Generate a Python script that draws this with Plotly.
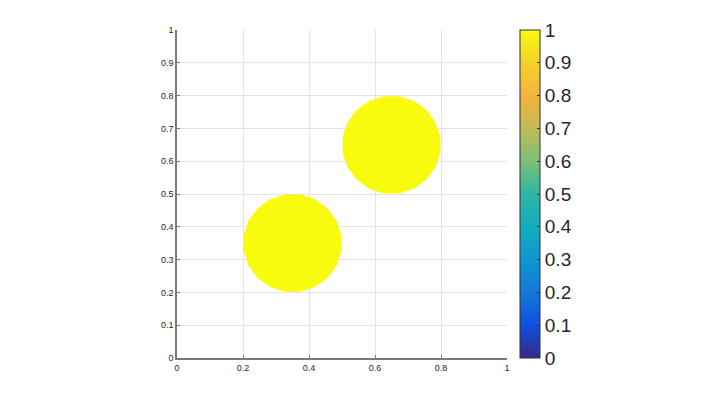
import numpy as np
import plotly.graph_objects as go

# two filled discs (drawn as polygons, like MATLAB's patch output)
center_x = [0.35, 0.65]
center_y = [0.35, 0.65]
radius = [0.15, 0.15]
value = [1.0, 1.0]
n_sides = 20

x_ticks = [0, 0.2, 0.4, 0.6, 0.8, 1]
y_ticks = [0, 0.1, 0.2, 0.3, 0.4, 0.5, 0.6, 0.7, 0.8, 0.9, 1]
cbar_ticks = [0, 0.1, 0.2, 0.3, 0.4, 0.5, 0.6, 0.7, 0.8, 0.9, 1]

# approximate MATLAB parula
parula = [
    [0.0, "rgb(53,42,135)"],
    [0.1, "rgb(15,80,222)"],
    [0.2, "rgb(20,120,218)"],
    [0.3, "rgb(14,150,208)"],
    [0.4, "rgb(20,172,190)"],
    [0.5, "rgb(45,183,165)"],
    [0.6, "rgb(125,191,120)"],
    [0.7, "rgb(195,186,88)"],
    [0.8, "rgb(245,178,60)"],
    [0.9, "rgb(246,210,40)"],
    [1.0, "rgb(249,251,14)"],
]


def parula_color(v):
    # pick the nearest stop; enough for values at the ends of the scale
    stop = min(parula, key=lambda s: abs(s[0] - v))
    return stop[1]


fig = go.Figure()

ang = np.deg2rad(np.arange(n_sides + 1) * 360 / n_sides + 180 / n_sides)
for cx, cy, r, v in zip(center_x, center_y, radius, value):
    fig.add_trace(
        go.Scatter(
            x=cx + r * np.cos(ang),
            y=cy + r * np.sin(ang),
            fill="toself",
            fillcolor=parula_color(v),
            mode="lines",
            line=dict(width=0, color=parula_color(v)),
            showlegend=False,
            hoverinfo="skip",
        )
    )

# invisible trace that only carries the colorbar
fig.add_trace(
    go.Scatter(
        x=[None],
        y=[None],
        mode="markers",
        marker=dict(
            color=[0, 1],
            cmin=0,
            cmax=1,
            colorscale=parula,
            showscale=True,
            colorbar=dict(
                x=1.039,
                xanchor="left",
                xpad=0,
                ypad=0,
                y=0.5,
                yanchor="middle",
                len=1,
                lenmode="fraction",
                thickness=20,
                outlinecolor="#333",
                outlinewidth=1,
                tickvals=cbar_ticks,
                ticktext=[f"{t:g}" for t in cbar_ticks],
                ticks="inside",
                ticklen=3,
                tickcolor="#333",
                tickfont=dict(size=19, color="#262626", family="Liberation Sans"),
            ),
        ),
        showlegend=False,
        hoverinfo="skip",
    )
)

axis_common = dict(
    showgrid=True,
    gridcolor="#e3e3e3",
    gridwidth=1,
    zeroline=False,
    showline=True,
    linecolor="#7a7a7a",
    linewidth=1.5,
    mirror=False,
    ticks="inside",
    ticklen=3,
    tickcolor="#7a7a7a",
    tickfont=dict(size=9, color="#262626", family="Liberation Sans"),
)

fig.update_xaxes(
    range=[0, 1],
    tickvals=x_ticks,
    ticktext=[f"{t:g}" for t in x_ticks],
    **axis_common,
)
fig.update_yaxes(
    range=[0, 1],
    tickvals=y_ticks,
    ticktext=[f"{t:g}" for t in y_ticks],
    **axis_common,
)

# page body adds an 8px offset, so margins are shifted up/left by that much
fig.update_layout(
    width=714,
    height=405,
    autosize=False,
    margin=dict(l=169, r=215, t=22, b=55),
    plot_bgcolor="white",
    paper_bgcolor="white",
)

fig.write_html("out.html")
